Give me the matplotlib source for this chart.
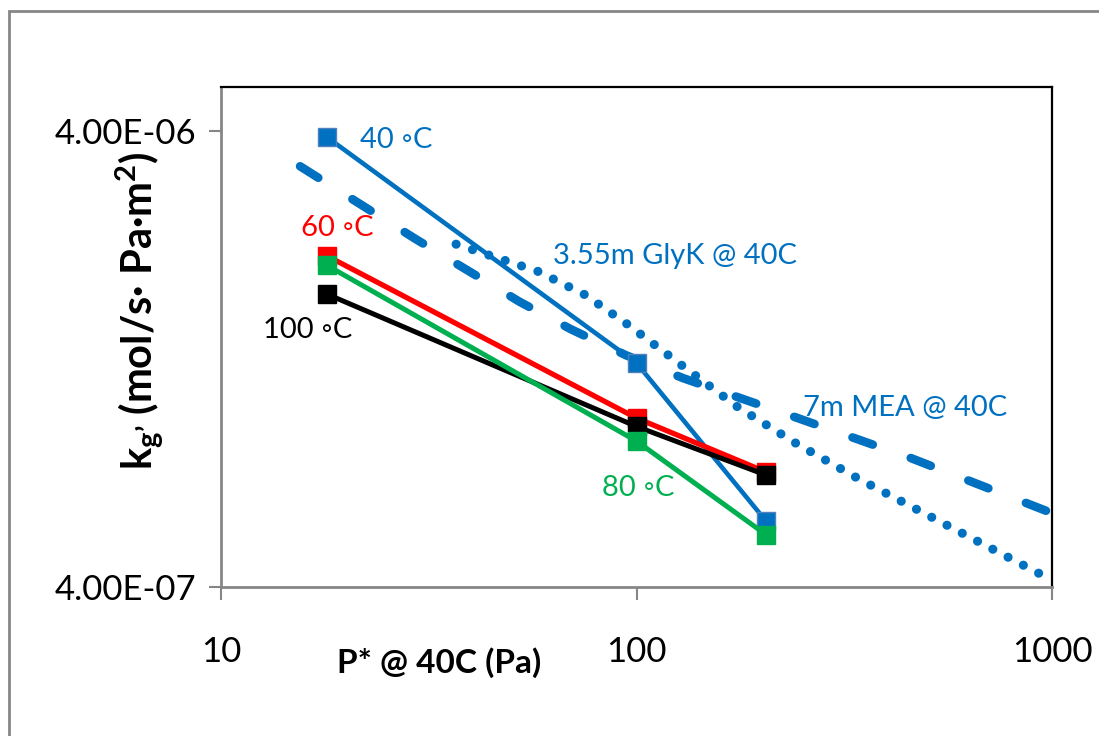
import matplotlib
matplotlib.use("Agg")
import matplotlib.pyplot as plt
from matplotlib.patches import Rectangle

plt.rcParams['font.family'] = ['Lato', 'DejaVu Sans']
plt.rcParams['lines.scale_dashes'] = False
plt.rcParams['mathtext.fontset'] = 'custom'
plt.rcParams['mathtext.rm'] = 'Lato:bold'
plt.rcParams['mathtext.it'] = 'Lato:bold'
plt.rcParams['mathtext.bf'] = 'Lato:bold'

# ---- data ----
p_star = [18, 100, 205]
kg_40C = [3.88e-6, 1.24e-6, 5.58e-7]
kg_60C = [2.13e-6, 9.39e-7, 7.15e-7]
kg_80C = [2.03e-6, 8.36e-7, 5.21e-7]
kg_100C = [1.756e-6, 9.0e-7, 7.04e-7]

mea_p = [15.5, 29.4, 52.3, 69.6, 94.3, 129.4, 242.7, 457.8, 1000]
mea_kg = [3.35e-6, 2.32e-6, 1.69e-6, 1.47e-6, 1.29e-6, 1.149e-6, 9.41e-7, 7.67e-7, 5.81e-7]

glyk_p = [36.8, 57.9, 75.2, 94.9, 129.4, 175.5, 243.4, 339.4, 475.9, 667.5, 1000]
glyk_kg = [2.26e-6, 1.97e-6, 1.75e-6, 1.51e-6, 1.22e-6, 9.92e-7, 8.24e-7, 6.94e-7, 5.90e-7, 5.02e-7, 4.14e-7]

x_ticks = [10, 100, 1000]
x_tick_labels = ["10", "100", "1000"]
y_ticks = [4e-7, 4e-6]
y_tick_labels = ["4.00E-07", "4.00E-06"]

BLUE = "#0070C0"
RED = "#FF0000"
GREEN = "#00B050"
BLACK = "#000000"
AXGRAY = "#868686"

fig = plt.figure(figsize=(10.99, 7.36), dpi=100)
ax = fig.add_axes([221/1099, 1-587/736, (1052-221)/1099, (587-87)/736])

# outer chart frame
fig.patches.append(Rectangle((9/1099, -0.1), 1.2, 1.1 - 11/736, transform=fig.transFigure,
                             fill=False, edgecolor=AXGRAY, lw=2, clip_on=False))

ax.set_xscale('log')
ax.set_yscale('log')

# reference lines
ax.plot(mea_p, mea_kg, color=BLUE, lw=6.2, dashes=(15.5, 29.0),
        dash_capstyle='round', solid_capstyle='round', zorder=2)
ax.plot(glyk_p, glyk_kg, color=BLUE, lw=6.6, dashes=(0.01, 12.4),
        dash_capstyle='round', zorder=2)

# experimental series
ms = 13.5
ax.plot(p_star, kg_40C, color=BLUE, lw=3.3, marker='s', ms=ms, mfc=BLUE, mec="#4F81BD", mew=1, zorder=3)
ax.plot(p_star, kg_60C, color=RED, lw=3.8, marker='s', ms=ms, mfc=RED, mec=RED, mew=1, zorder=4)
ax.plot(p_star, kg_100C, color=BLACK, lw=3.6, marker='s', ms=ms, mfc=BLACK, mec=BLACK, mew=1, zorder=5)
ax.plot(p_star, kg_80C, color=GREEN, lw=3.6, marker='s', ms=ms, mfc=GREEN, mec=GREEN, mew=1, zorder=6)

ax.set_xlim(10, 1000)
ax.set_ylim(4e-7, 5e-6)

ax.set_xticks(x_ticks)
ax.set_xticklabels(x_tick_labels)
ax.set_yticks(y_ticks)
ax.set_yticklabels(y_tick_labels)
ax.xaxis.set_minor_locator(matplotlib.ticker.NullLocator())
ax.yaxis.set_minor_locator(matplotlib.ticker.NullLocator())

ax.tick_params(axis='both', which='major', direction='out', length=9, width=1.5,
               color=AXGRAY, labelsize=25, labelcolor='black')
ax.tick_params(axis='x', pad=26)
ax.tick_params(axis='y', pad=9)

for side in ['left', 'bottom']:
    ax.spines[side].set_color(AXGRAY)
    ax.spines[side].set_linewidth(2)
for side in ['top', 'right']:
    ax.spines[side].set_color(BLACK)
    ax.spines[side].set_linewidth(1.6)

# series labels
fs = 21
ax.text((360-221)/831, (587-140)/500, "40 ◦C", color=BLUE, fontsize=fs, ha='left', va='center', transform=ax.transAxes)
ax.text((337-221)/831, (587-228)/500, "60 ◦C", color=RED, fontsize=fs, ha='center', va='center', transform=ax.transAxes)
ax.text((308-221)/831, (587-330)/500, "100 ◦C", color=BLACK, fontsize=fs, ha='center', va='center', transform=ax.transAxes)
ax.text((638-221)/831, (587-488)/500, "80 ◦C", color=GREEN, fontsize=fs, ha='center', va='center', transform=ax.transAxes)
ax.text((553-221)/831, (587-256)/500, "3.55m GlyK @ 40C", color=BLUE, fontsize=fs, ha='left', va='center', transform=ax.transAxes)
ax.text((803-221)/831, (587-408)/500, "7m MEA @ 40C", color=BLUE, fontsize=fs, ha='left', va='center', transform=ax.transAxes)

# axis titles
fig.text(439/1099, 1-663/736, "P* @ 40C (Pa)", fontsize=24, fontweight='bold', ha='center', va='center')
fig.text(140/1099, 1-311/736, r"k$_{\mathregular{g’}}$ (mol/s· Pa·m$^{\mathregular{2}}$)", fontsize=30,
         fontweight='bold', rotation=90, ha='center', va='center')

fig.savefig("out.png", dpi=100)
